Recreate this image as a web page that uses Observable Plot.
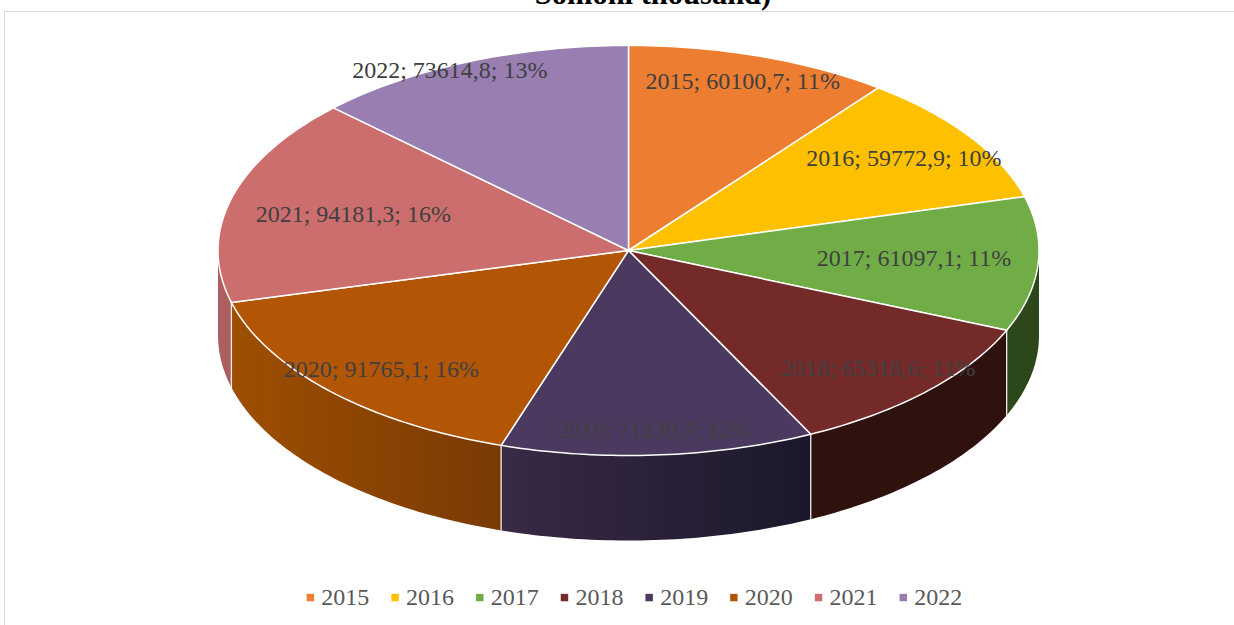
<!DOCTYPE html>
<html>
<head>
<meta charset="utf-8">
<script src="https://cdn.jsdelivr.net/npm/d3@7"></script>
<script src="https://cdn.jsdelivr.net/npm/@observablehq/plot@0.6"></script>
<style>
  html, body { margin: 0; padding: 0; background: #fff; width: 1234px; height: 625px; overflow: hidden; }
  #page { position: relative; width: 1234px; height: 625px; overflow: hidden; }
  #frame { position: absolute; left: 4px; top: 11px; width: 1300px; height: 700px; border: 1.5px solid #d9d9d9; box-sizing: border-box; }
  #title { position: absolute; left: 0; width: 1306px; top: -24px; text-align: center; font: bold 30.5px/36px "Liberation Serif", serif; color: #000; white-space: nowrap; }
  #chart { position: absolute; left: 0; top: 0; }
</style>
</head>
<body>
<div id="page">
  <div id="frame"></div>
  <div id="title">Somoni thousand)</div>
  <div id="chart"></div>
</div>
<script>
const years = ["2015", "2016", "2017", "2018", "2019", "2020", "2021", "2022"];
const values = [60100.7, 59772.9, 61097.1, 65318.6, 71230.7, 91765.1, 94181.3, 73614.8];
const percents = [11, 10, 11, 11, 12, 16, 16, 13];
const topColors = ["#ED7D31", "#FFC000", "#70AD47", "#752A2A", "#4C3960", "#B25606", "#CC6E6E", "#987EB1"];
const wallColors = {
  "2017": ["#2C4719", "#2C4719"],
  "2018": ["#2F110E", "#2F110E"],
  "2019": ["#392A45", "#1B182B"],
  "2020": ["#9E4F02", "#7A3A04"],
  "2021": ["#AB5F5F", "#AB5F5F"]
};
// label placement as fractions of the ellipse radii along each slice's mid angle
const labelRadiusX = [0.866, 0.808, 0.697, 0.836, 0.875, 0.827, 0.693, 1.116];
const labelRadiusY = [0.870, 0.810, 0.560, 0.837, 0.880, 0.845, 0.687, 0.955];

const depth = 85 / 205;           // wall height in units of the vertical radius
const legendStart = -0.775, legendStep = 84.7 / 410.5, legendRow = -1.693;

const total = d3.sum(values);
const deg = Math.PI / 180;
let cum = 0;
const slices = years.map((year, i) => {
  const a0 = cum / total * 2 * Math.PI;
  cum += values[i];
  const a1 = cum / total * 2 * Math.PI;
  return { year, i, a0, a1, mid: (a0 + a1) / 2 };
});
const arc = (a0, a1) => {
  const n = Math.max(2, Math.ceil((a1 - a0) / deg));
  return d3.range(n + 1).map(k => a0 + (a1 - a0) * k / n);
};

// Top face polygons
const topPoints = slices.flatMap(s => [
  { year: s.year, x: 0, y: 0 },
  ...arc(s.a0, s.a1).map(a => ({ year: s.year, x: Math.sin(a), y: Math.cos(a) }))
]);

// Front wall polygons (only between the rightmost and the leftmost point of the disc)
const walls = slices.filter(s => s.a1 > Math.PI / 2 && s.a0 < 3 * Math.PI / 2).map(s => {
  const as = arc(Math.max(s.a0, Math.PI / 2), Math.min(s.a1, 3 * Math.PI / 2));
  return {
    year: s.year,
    points: [
      ...as.map(a => ({ x: Math.sin(a), y: Math.cos(a) })),
      ...as.slice().reverse().map(a => ({ x: Math.sin(a), y: Math.cos(a) - depth }))
    ]
  };
});

// Vertical seams on the wall
const seams = slices.filter(s => s.a1 > Math.PI / 2 && s.a1 < 3 * Math.PI / 2).flatMap(s => [
  { year: s.year, x: Math.sin(s.a1), y: Math.cos(s.a1) },
  { year: s.year, x: Math.sin(s.a1), y: Math.cos(s.a1) - depth }
]);

const labels = slices.map(s => ({
  x: Math.sin(s.mid) * labelRadiusX[s.i],
  y: Math.cos(s.mid) * labelRadiusY[s.i],
  text: `${s.year}; ${String(values[s.i]).replace(".", ",")}; ${percents[s.i]}%`
}));

const legend = years.map((year, i) => ({ year, x: legendStart + i * legendStep, y: legendRow }));

const plot = Plot.plot({
  width: 1234,
  height: 625,
  margin: 0,
  style: { background: "transparent" },
  x: { domain: [-1, 1], range: [217.5, 1038.5], axis: null },
  y: { domain: [-1, 1], range: [455, 45], axis: null },
  color: { type: "ordinal", domain: years, range: topColors },
  marks: [
    ...walls.map(w => Plot.line(w.points, {
      x: "x", y: "y", curve: "linear-closed",
      fill: `url(#wall${w.year})`, stroke: "none"
    })),
    Plot.line(seams, { x: "x", y: "y", z: "year", stroke: "#ececec", strokeWidth: 1.3 }),
    Plot.line(topPoints, {
      x: "x", y: "y", z: "year", curve: "linear-closed",
      fill: "year", stroke: "#fff", strokeWidth: 1.5, strokeLinejoin: "round"
    }),
    Plot.text(labels, {
      x: "x", y: "y", text: "text",
      fontFamily: "Liberation Serif", fontSize: 24, fill: "#404040"
    }),
    Plot.dot(legend, { x: "x", y: "y", symbol: "square", r: 4.2, fill: "year", stroke: "none" }),
    Plot.text(legend, {
      x: "x", y: "y", text: "year", dx: 11, textAnchor: "start",
      fontFamily: "Liberation Serif", fontSize: 24, fill: "#595959"
    })
  ]
});

// Horizontal gradients used by the wall polygons
const defs = d3.select(plot).append("defs");
for (const w of walls) {
  const [c0, c1] = wallColors[w.year] || ["#555", "#333"];
  const g = defs.append("linearGradient").attr("id", `wall${w.year}`)
    .attr("x1", 0).attr("x2", 1).attr("y1", 0).attr("y2", 0);
  g.append("stop").attr("offset", "0%").attr("stop-color", c0);
  g.append("stop").attr("offset", "100%").attr("stop-color", c1);
}

document.getElementById("chart").appendChild(plot);
</script>
</body>
</html>
